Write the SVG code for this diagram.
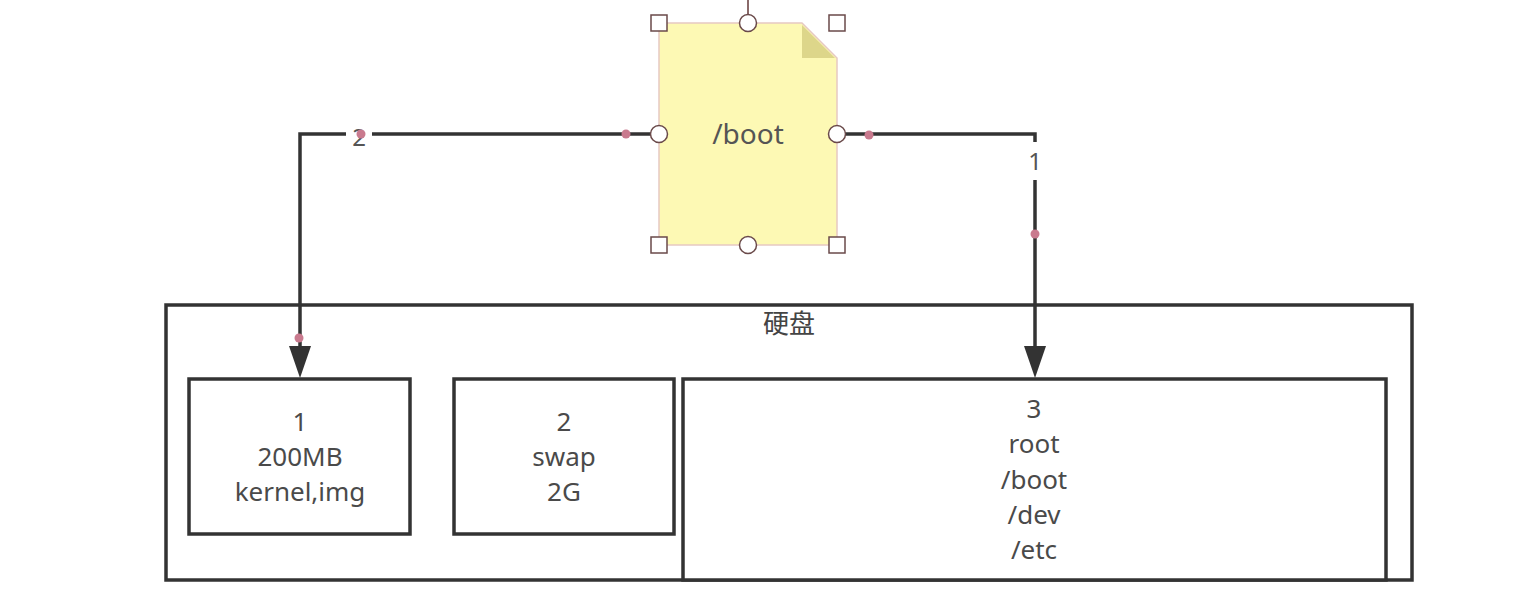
<svg xmlns="http://www.w3.org/2000/svg" width="1514" height="594" viewBox="0 0 1514 594">
<style>
.t{font-family:"Noto Sans","Open Sans",sans-serif;font-size:26px;fill:#4a4a4a;text-anchor:middle}
.box{fill:#fff;stroke:#333;stroke-width:3.5}
.edge{fill:none;stroke:#333;stroke-width:3.5}
.dot{fill:#c97a8e}
.h{fill:#fff;stroke:#6a4a4a;stroke-width:1.5}
.lbl{font-family:"Noto Sans","Open Sans",sans-serif;font-size:24px;fill:#555;text-anchor:middle}
</style>
<defs>
<marker id="arr" markerWidth="32" markerHeight="22" refX="4" refY="11" orient="auto" markerUnits="userSpaceOnUse" viewBox="0 0 32 22">
<path d="M0,0 L32,11 L0,22 Z" fill="#333"/>
</marker>
</defs>
<rect width="1514" height="594" fill="#fff"/>
<g id="disk">
<rect class="box" x="166" y="305" width="1246" height="275"/>
<text x="789" y="333" font-family="'Noto Sans CJK SC',sans-serif" font-size="26" fill="#444" text-anchor="middle">硬盘</text>
</g>
<g id="p1">
<rect class="box" x="189" y="379" width="221" height="155"/>
<text class="t" x="300" y="431">1</text>
<text class="t" x="300" y="466">200MB</text>
<text class="t" x="300" y="501">kernel,img</text>
</g>
<g id="p2">
<rect class="box" x="454" y="379" width="220" height="155"/>
<text class="t" x="564" y="431">2</text>
<text class="t" x="564" y="466">swap</text>
<text class="t" x="564" y="501">2G</text>
</g>
<g id="p3">
<rect class="box" x="683" y="379" width="703" height="201"/>
<text class="t" x="1034" y="418">3</text>
<text class="t" x="1034" y="453">root</text>
<text class="t" x="1034" y="489">/boot</text>
<text class="t" x="1034" y="524">/dev</text>
<text class="t" x="1034" y="559">/etc</text>
</g>
<g id="connectors">
<path class="edge" d="M659,134 L300,134 L300,350" marker-end="url(#arr)"/>
<path class="edge" d="M837,134 L1035,134 L1035,142"/>
<path class="edge" d="M1035,180 L1035,350" marker-end="url(#arr)"/>
<rect x="346" y="122" width="26" height="26" fill="#fff"/>
<text class="lbl" x="359" y="146">2</text>
<text class="lbl" x="1035" y="170">1</text>
<circle class="dot" cx="626" cy="134" r="4.5"/>
<circle class="dot" cx="361" cy="134" r="4.5"/>
<circle class="dot" cx="299" cy="338" r="4.5"/>
<circle class="dot" cx="869" cy="135" r="4.5"/>
<circle class="dot" cx="1035" cy="234" r="4.5"/>
</g>
<g id="boot">
<line x1="748" y1="0" x2="748" y2="15" stroke="#8a6a6a" stroke-width="2"/>
<path d="M659,23 L802,23 L837,58 L837,245 L659,245 Z" fill="#fdf9b4" stroke="#e6c9c2" stroke-width="1.5"/>
<path d="M802,25 L835,58 L802,58 Z" fill="#ddd68a"/>
<text x="748" y="144" font-family="'Noto Sans','Open Sans',sans-serif" font-size="28" fill="#555" text-anchor="middle">/boot</text>
<rect class="h" x="651" y="15" width="16" height="16"/>
<rect class="h" x="829" y="15" width="16" height="16"/>
<rect class="h" x="651" y="237" width="16" height="16"/>
<rect class="h" x="829" y="237" width="16" height="16"/>
<circle class="h" cx="748" cy="23" r="8.5"/>
<circle class="h" cx="748" cy="245" r="8.5"/>
<circle class="h" cx="659" cy="134" r="8.5"/>
<circle class="h" cx="837" cy="134" r="8.5"/>
</g>
</svg>
